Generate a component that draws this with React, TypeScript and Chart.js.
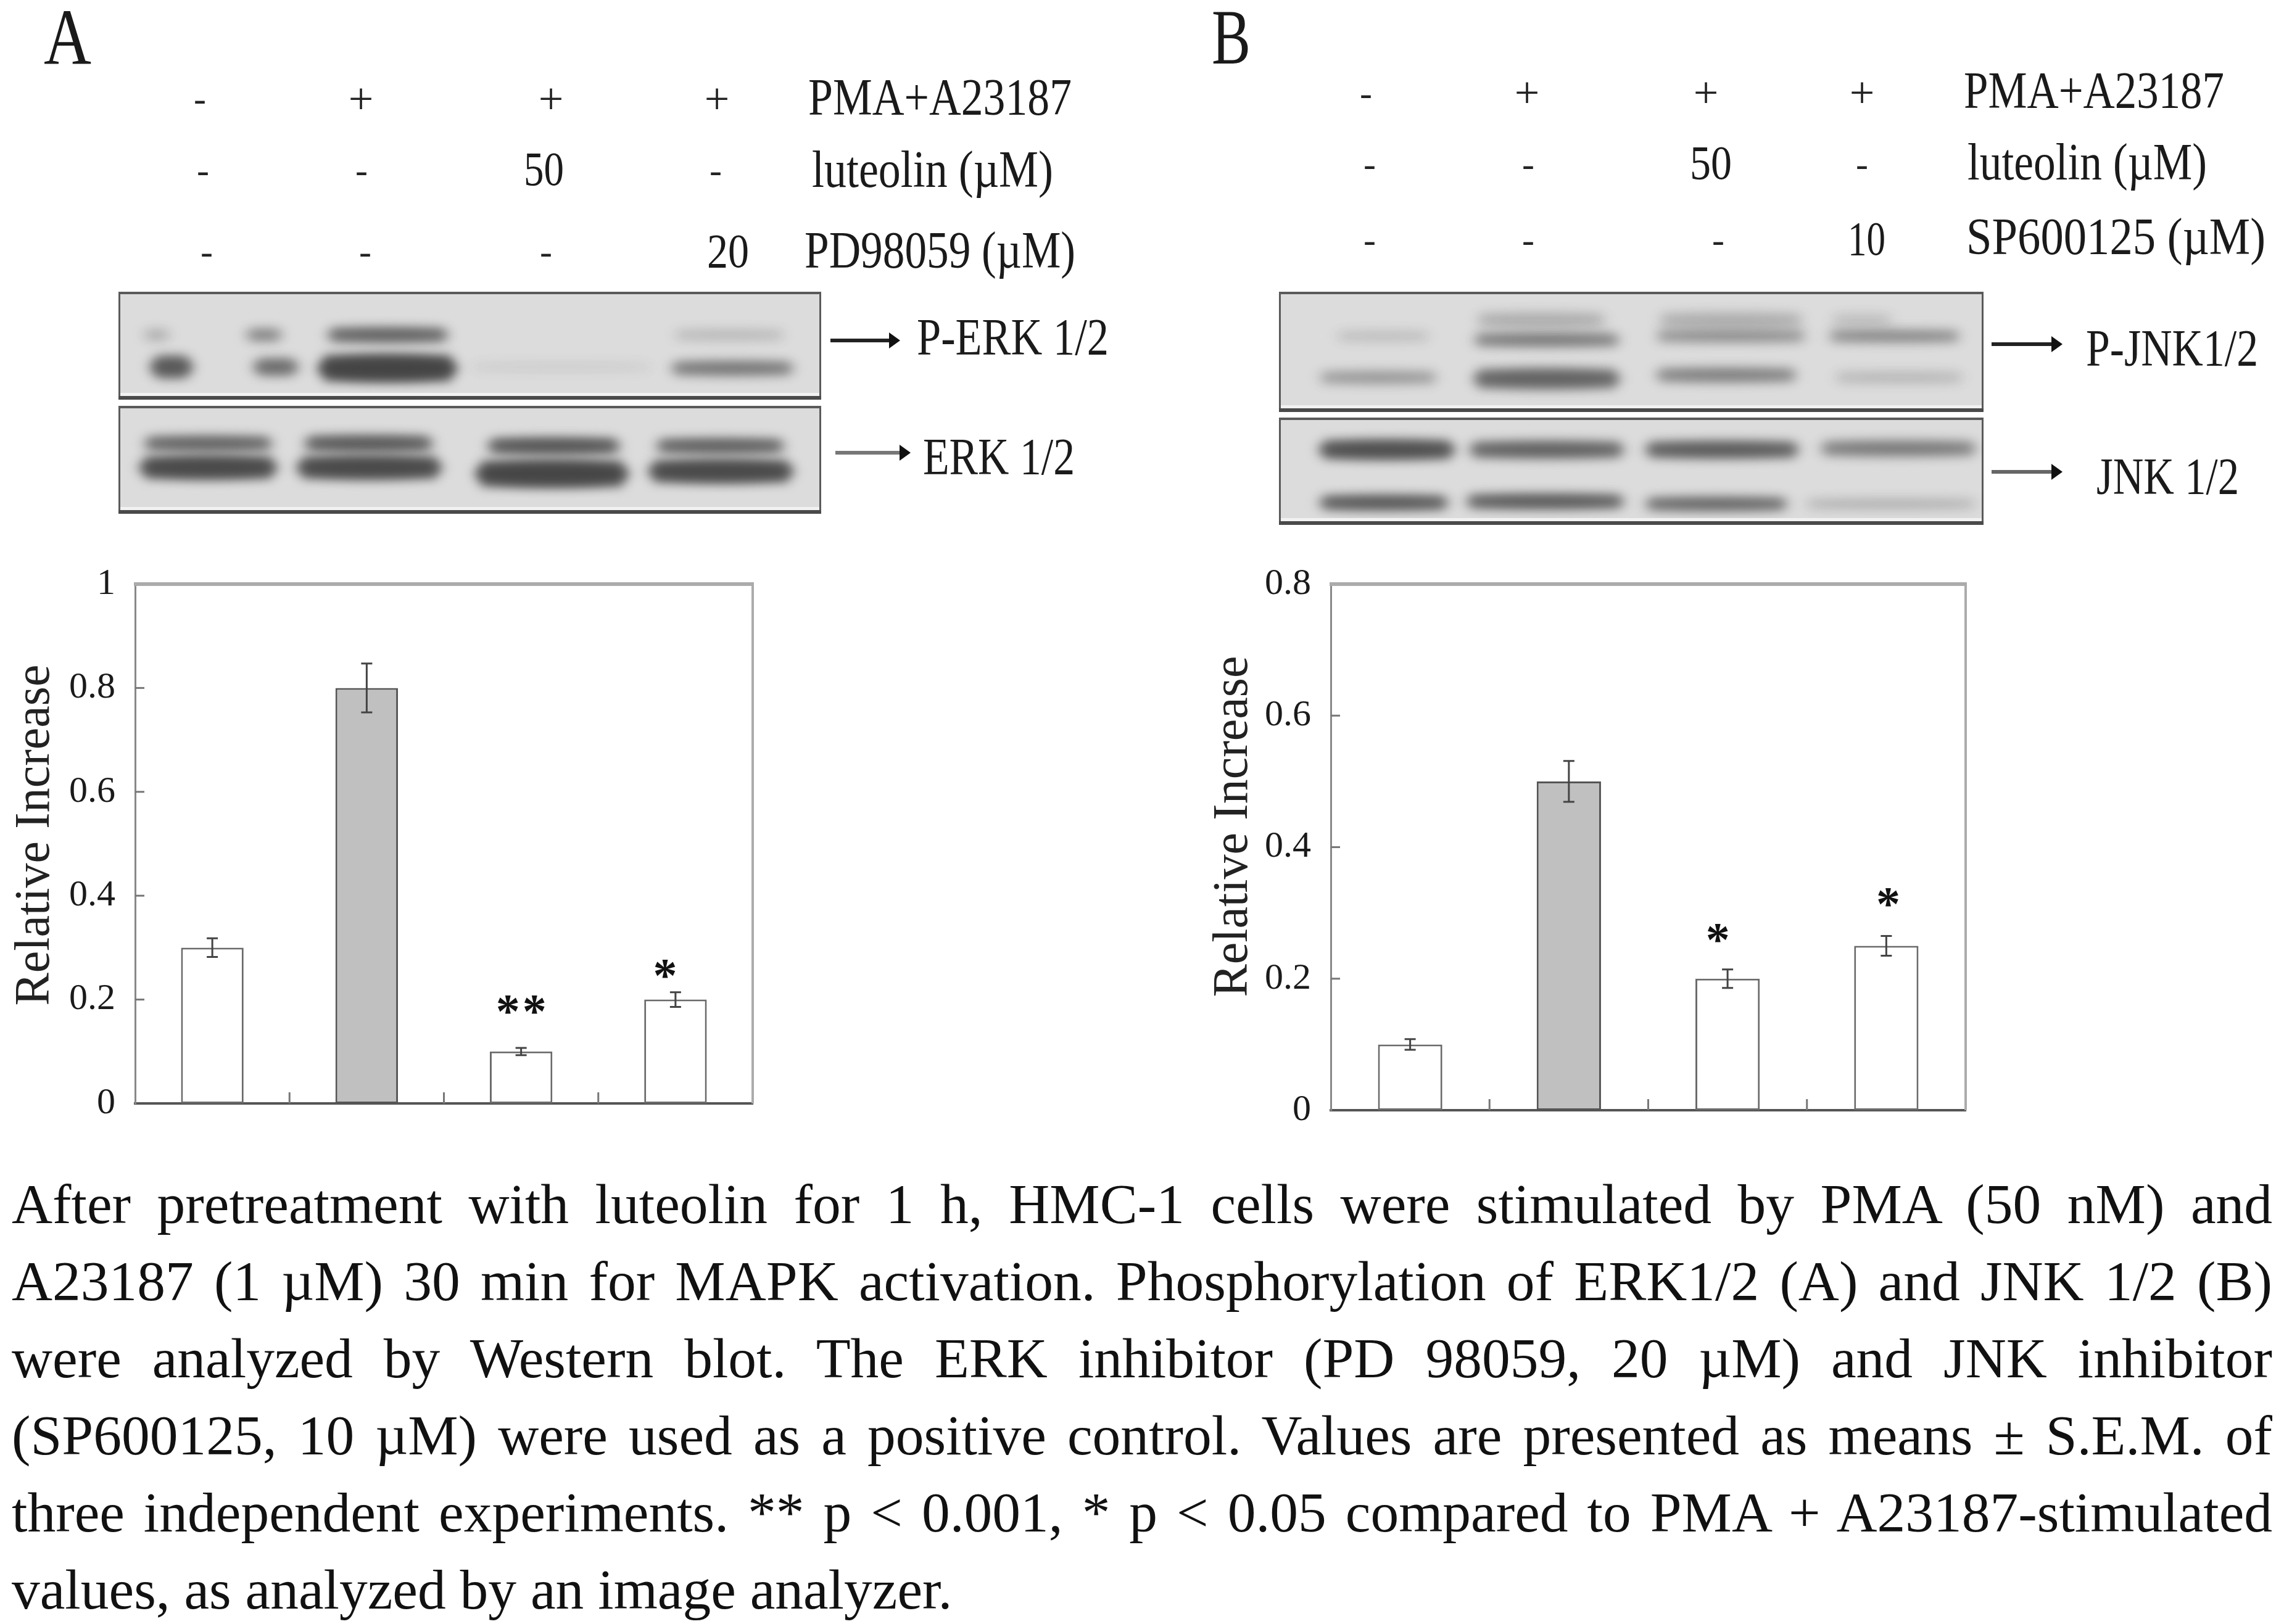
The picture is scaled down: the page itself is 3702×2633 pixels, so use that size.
import React, { useEffect, useRef } from "react";
import { Chart, registerables } from "chart.js";

Chart.register(...registerables);

const SERIF = '"Liberation Serif", "Times New Roman", serif';

// ---- data ----
const categories = ["Control", "PMA+A23187", "luteolin", "inhibitor"];
const valuesA = [0.3, 0.8, 0.1, 0.2];
const errorsA = [0.018, 0.047, 0.007, 0.014];
const marksA = ["", "", "**", "*"];
const markValuesA = [0, 0, 0.195, 0.264];
const markShiftA = [0, 0, 2, -15];
const valuesB = [0.1, 0.5, 0.2, 0.25];
const errorsB = [0.008, 0.031, 0.014, 0.015];
const marksB = ["", "", "*", "*"];
const markValuesB = [0, 0, 0.273, 0.327];
const markShiftB = [0, 0, -14, 5];
const ticksA = [0, 0.2, 0.4, 0.6, 0.8, 1];
const ticksB = [0, 0.2, 0.4, 0.6, 0.8];
const yTitle = "Relative Increase";

const captionLines = [
  "After pretreatment with luteolin for 1 h, HMC-1 cells were stimulated by PMA (50 nM) and",
  "A23187 (1 µM) 30 min for MAPK activation. Phosphorylation of ERK1/2 (A) and JNK 1/2 (B)",
  "were analyzed by Western blot. The ERK inhibitor (PD 98059, 20 µM) and JNK inhibitor",
  "(SP600125, 10 µM) were used as a positive control. Values are presented as means ± S.E.M. of",
  "three independent experiments. ** p < 0.001, * p < 0.05 compared to PMA + A23187-stimulated",
  "values, as analyzed by an image analyzer.",
];

// [text, left, baseline, width, font size]
type L = [string, number, number, number, number];
const labels: L[] = [
  ["A", 71, 104, 77, 130],
  ["B", 1964, 103, 63, 126],
  ["PMA+A23187", 1310, 187, 427, 84],
  ["luteolin (µM)", 1316, 304, 391, 84],
  ["PD98059 (µM)", 1304, 435, 439, 84],
  ["50", 849, 300, 65, 78],
  ["20", 1146, 433, 68, 78],
  ["P-ERK 1/2", 1486, 576, 311, 84],
  ["ERK 1/2", 1496, 770, 246, 84],
  ["PMA+A23187", 3183, 176, 422, 84],
  ["luteolin (µM)", 3189, 292, 388, 84],
  ["SP600125 (µM)", 3187, 413, 485, 84],
  ["50", 2739, 290, 68, 78],
  ["10", 2995, 413, 61, 78],
  ["P-JNK1/2", 3381, 594, 279, 84],
  ["JNK 1/2", 3398, 802, 231, 84],
];

// [symbol, centre x, centre y]
type S = [string, number, number];
const symbols: S[] = [
  ["-", 324, 160], ["+", 585, 160], ["+", 893, 160], ["+", 1162, 160],
  ["-", 329, 276], ["-", 586, 276], ["-", 1160, 276],
  ["-", 335, 408], ["-", 592, 408], ["-", 885, 408],
  ["-", 2214, 151], ["+", 2475, 150], ["+", 2765, 150], ["+", 3018, 150],
  ["-", 2220, 266], ["-", 2477, 266], ["-", 3018, 266],
  ["-", 2220, 389], ["-", 2477, 389], ["-", 2785, 389],
];

// [x0, x1, y, thickness, darkness] in blot-local pixels
type Band = [number, number, number, number, number];
type Blot = { x: number; y: number; w: number; h: number; bands: Band[] };
const blots: Blot[] = [
  { x: 192, y: 473, w: 1139, h: 175, bands: [
    [36, 88, 70, 14, 0.2], [202, 270, 70, 16, 0.4], [333, 540, 70, 20, 0.6], [895, 1085, 70, 14, 0.15],
    [48, 124, 122, 32, 0.62], [214, 296, 122, 24, 0.5], [320, 552, 124, 40, 0.85], [565, 870, 122, 12, 0.06], [890, 1100, 124, 20, 0.45],
  ] },
  { x: 192, y: 658, w: 1139, h: 175, bands: [
    [36, 255, 61, 20, 0.6], [296, 515, 61, 22, 0.65], [593, 818, 65, 22, 0.7], [866, 1085, 65, 20, 0.62],
    [30, 261, 100, 34, 0.78], [285, 528, 100, 34, 0.78], [575, 830, 110, 40, 0.82], [855, 1098, 106, 34, 0.78],
  ] },
  { x: 2073, y: 473, w: 1142, h: 195, bands: [
    [88, 250, 72, 14, 0.12], [310, 558, 78, 18, 0.45], [605, 860, 72, 16, 0.35], [885, 1110, 72, 16, 0.38],
    [315, 535, 46, 22, 0.18], [610, 855, 46, 22, 0.18], [890, 1000, 46, 16, 0.12],
    [60, 262, 139, 18, 0.28], [310, 558, 141, 30, 0.55], [605, 845, 135, 20, 0.4], [895, 1115, 139, 16, 0.14],
  ] },
  { x: 2073, y: 677, w: 1142, h: 174, bands: [
    [60, 290, 52, 28, 0.72], [303, 565, 52, 24, 0.58], [588, 848, 52, 24, 0.62], [872, 1136, 50, 22, 0.42],
    [60, 280, 138, 20, 0.68], [298, 565, 136, 20, 0.66], [588, 830, 140, 18, 0.58], [848, 1136, 140, 12, 0.2],
  ] },
];

// [x0, x1, y, colour]
type Arrow = [number, number, number, string];
const arrows: Arrow[] = [
  [1346, 1459, 552, "#222"], [1354, 1476, 734, "#777"],
  [3228, 3343, 558, "#222"], [3228, 3343, 765, "#666"],
];

const measure = document.createElement("canvas").getContext("2d")!;

function Label({ item }: { item: L }) {
  const [text, left, baseline, width, size] = item;
  measure.font = `${size}px ${SERIF}`;
  const sx = width / measure.measureText(text).width;
  return (
    <div style={{
      position: "absolute", left, top: baseline - size * 0.9375, height: size * 1.2, lineHeight: `${size * 1.2}px`,
      fontFamily: SERIF, fontSize: size, color: "#1a1a1a", whiteSpace: "nowrap",
      transform: `scaleX(${sx})`, transformOrigin: "0 0",
    }}>{text}</div>
  );
}

function BlotPanel({ blot }: { blot: Blot }) {
  const ref = useRef<HTMLCanvasElement>(null);
  useEffect(() => {
    const c = ref.current!;
    const g = c.getContext("2d")!;
    g.fillStyle = "#dcdcdc";
    g.fillRect(0, 0, blot.w, blot.h);
    g.filter = "blur(9px)";
    for (const [x0, x1, y, t, d] of blot.bands) {
      g.fillStyle = `rgba(65,65,65,${d})`;
      g.beginPath();
      g.ellipse((x0 + x1) / 2, y, (x1 - x0) / 2, t / 2, 0, 0, Math.PI * 2);
      g.fill();
      g.fillRect(x0 + 12, y - t / 2, x1 - x0 - 24, t);
    }
    g.filter = "none";
    g.fillStyle = "#f2f2f2";
    g.fillRect(0, blot.h - 11, blot.w, 5);
    g.strokeStyle = "#5a5a5a";
    g.lineWidth = 4;
    g.strokeRect(1, 2, blot.w - 2, blot.h - 4);
    g.fillStyle = "#4a4a4a";
    g.fillRect(0, blot.h - 6, blot.w, 6);
  }, [blot]);
  return <canvas ref={ref} width={blot.w} height={blot.h}
    style={{ position: "absolute", left: blot.x, top: blot.y, display: "block" }} />;
}

function ArrowMark({ item }: { item: Arrow }) {
  const [x0, x1, y, colour] = item;
  return (
    <svg style={{ position: "absolute", left: x0, top: y - 15, overflow: "visible" }} width={x1 - x0} height={30}>
      <line x1={0} y1={15} x2={x1 - x0 - 14} y2={15} stroke={colour} strokeWidth={6} />
      <polygon points={`${x1 - x0 - 18},2 ${x1 - x0},15 ${x1 - x0 - 18},28`} fill="#111" />
    </svg>
  );
}

type PanelProps = {
  left: number; top: number; width: number; height: number;
  plotLeft: number; plotRight: number; plotTop: number; plotBottom: number;
  titleX: number; titleY: number;
  values: number[]; errors: number[]; marks: string[]; markValues: number[]; markShift: number[]; ticks: number[]; max: number;
};

function BarPanel(p: PanelProps) {
  const ref = useRef<HTMLCanvasElement>(null);
  useEffect(() => {
    const furniture = {
      id: "furniture",
      afterDatasetsDraw(chart: any) {
        const g = chart.ctx as CanvasRenderingContext2D;
        const { x, y } = chart.scales;
        const { left, right, top, bottom } = chart.chartArea;
        g.save();
        // open sides of the frame
        g.strokeStyle = "#ababab";
        g.lineWidth = 6;
        g.beginPath(); g.moveTo(left - 2, top); g.lineTo(right + 2, top); g.stroke();
        g.lineWidth = 4;
        g.beginPath(); g.moveTo(right, top); g.lineTo(right, bottom); g.stroke();
        // inward tick marks
        g.strokeStyle = "#777";
        g.lineWidth = 3;
        for (const t of p.ticks) {
          if (t === 0 || t === p.max) continue;
          const py = y.getPixelForValue(t);
          g.beginPath(); g.moveTo(left, py); g.lineTo(left + 15, py); g.stroke();
        }
        for (let i = 0; i < categories.length - 1; i++) {
          const px = (x.getPixelForValue(i) + x.getPixelForValue(i + 1)) / 2;
          g.beginPath(); g.moveTo(px, bottom); g.lineTo(px, bottom - 18); g.stroke();
        }
        // error bars
        g.strokeStyle = "#444";
        g.lineWidth = 3;
        p.values.forEach((v, i) => {
          const px = x.getPixelForValue(i);
          const hi = y.getPixelForValue(v + p.errors[i]);
          const lo = y.getPixelForValue(v - p.errors[i]);
          g.beginPath();
          g.moveTo(px, hi); g.lineTo(px, lo);
          g.moveTo(px - 9, hi); g.lineTo(px + 9, hi);
          g.moveTo(px - 9, lo); g.lineTo(px + 9, lo);
          g.stroke();
        });
        // significance marks
        g.fillStyle = "#111";
        g.font = `bold 78px ${SERIF}`;
        g.textAlign = "center";
        g.textBaseline = "alphabetic";
        p.marks.forEach((m, i) => {
          if (!m) return;
          const py = y.getPixelForValue(p.markValues[i]);
          (g as any).letterSpacing = "4px";
          g.fillText(m, x.getPixelForValue(i) + p.markShift[i], py + 40);
        });
        (g as any).letterSpacing = "0px";
        // y axis title, placed off-centre as in the source figure
        g.fillStyle = "#222";
        g.font = `80px ${SERIF}`;
        g.textBaseline = "middle";
        g.translate(p.titleX, p.titleY);
        g.rotate(-Math.PI / 2);
        g.fillText(yTitle, 0, 0);
        g.restore();
      },
    };
    const chart = new Chart(ref.current!, {
      type: "bar",
      data: {
        labels: categories,
        datasets: [{
          data: p.values,
          backgroundColor: ["#ffffff", "#c0c0c0", "#ffffff", "#ffffff"],
          borderColor: ["#6a6a6a", "#555555", "#6a6a6a", "#6a6a6a"],
          borderWidth: 3,
          borderSkipped: false,
          categoryPercentage: 1,
          barPercentage: 0.405,
        }],
      },
      options: {
        animation: false,
        responsive: false,
        devicePixelRatio: 1,
        plugins: { legend: { display: false }, tooltip: { enabled: false } },
        layout: { padding: { top: p.plotTop, right: p.width - p.plotRight, left: 0, bottom: 0 } },
        scales: {
          x: {
            ticks: { display: false },
            grid: { display: false },
            border: { color: "#555", width: 4 },
            afterFit: (s: any) => { s.height = p.height - p.plotBottom; s.paddingLeft = 0; s.paddingRight = 0; },
          },
          y: {
            min: 0,
            max: p.max,
            afterBuildTicks: (s: any) => { s.ticks = p.ticks.map((value) => ({ value })); },
            ticks: {
              color: "#1a1a1a",
              padding: 32,
              font: { family: SERIF, size: 60 },
              callback: (v: any) => String(v),
            },
            grid: { display: false, drawTicks: false },
            border: { color: "#888", width: 3 },
            afterFit: (s: any) => { s.width = p.plotLeft; s.paddingTop = 0; s.paddingBottom = 0; },
          },
        },
      },
      plugins: [furniture],
    } as any);
    return () => chart.destroy();
  }, []);
  return <canvas ref={ref} width={p.width} height={p.height}
    style={{ position: "absolute", left: p.left, top: p.top, width: p.width, height: p.height, display: "block" }} />;
}

export default function App() {
  return (
    <div style={{ position: "absolute", left: 0, top: 0, width: 3702, height: 2633, background: "#fff", overflow: "hidden" }}>
      {labels.map((l, i) => <Label key={i} item={l} />)}
      {symbols.map(([s, x, y], i) => (
        <div key={i} style={{
          position: "absolute", left: x - 40, top: y - 40, width: 80, height: 80, lineHeight: "80px", textAlign: "center",
          fontFamily: SERIF, fontSize: s === "+" ? 72 : 60, color: "#222",
        }}>{s}</div>
      ))}
      {blots.map((b, i) => <BlotPanel key={i} blot={b} />)}
      {arrows.map((a, i) => <ArrowMark key={i} item={a} />)}
      <BarPanel left={0} top={900} width={1300} height={950}
        plotLeft={219} plotRight={1220} plotTop={47} plotBottom={889}
        titleX={58} titleY={454}
        values={valuesA} errors={errorsA} marks={marksA} markValues={markValuesA} markShift={markShiftA} ticks={ticksA} max={1} />
      <BarPanel left={1938} top={900} width={1300} height={950}
        plotLeft={219} plotRight={1248} plotTop={47} plotBottom={900}
        titleX={62} titleY={440}
        values={valuesB} errors={errorsB} marks={marksB} markValues={markValuesB} markShift={markShiftB} ticks={ticksB} max={0.8} />
      <div style={{ position: "absolute", left: 19, top: 1890, width: 3664, fontFamily: SERIF, fontSize: 91.5, color: "#111" }}>
        {captionLines.map((line, i) => (
          <div key={i} style={{
            height: 125, lineHeight: "125px", whiteSpace: "normal",
            textAlign: i < captionLines.length - 1 ? "justify" : "left",
            textAlignLast: i < captionLines.length - 1 ? "justify" : "left",
          }}>{line}</div>
        ))}
      </div>
    </div>
  );
}
